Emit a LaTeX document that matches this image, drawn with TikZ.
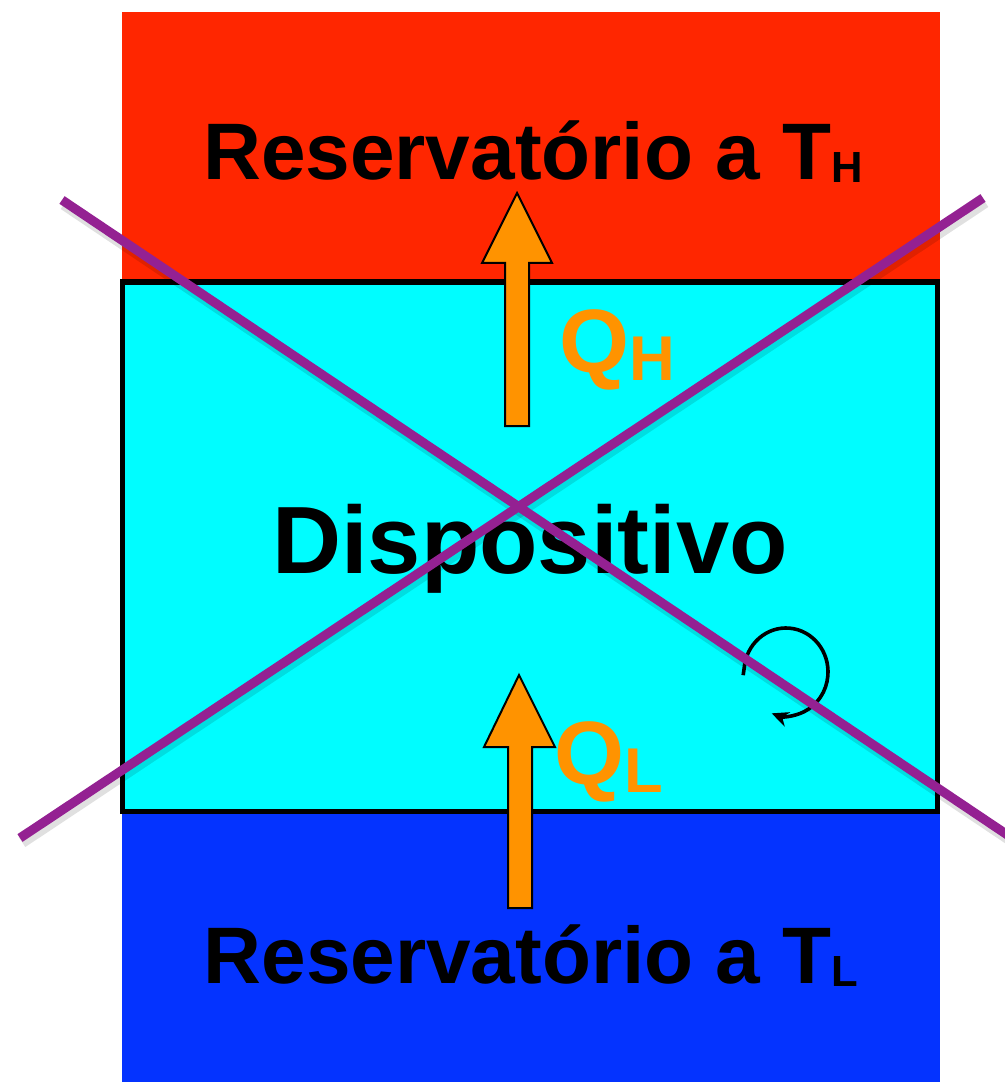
\documentclass[tikz,border=0pt]{standalone}
\usepackage{fontspec}
\setmainfont{Liberation Sans}
\usetikzlibrary{arrows.meta}
\definecolor{hotred}{HTML}{FF2600}
\definecolor{coldblue}{HTML}{0433FF}
\definecolor{devcyan}{HTML}{00FDFF}
\definecolor{heatorange}{HTML}{FF9300}
\definecolor{crossplum}{HTML}{942192}
\begin{document}
\begin{tikzpicture}[x=0.025cm,y=-0.025cm,
  reslabel/.style={anchor=base,inner sep=0pt,font=\bfseries\fontsize{57}{60}\selectfont},
  qlabel/.style={anchor=base west,inner sep=0pt,text=heatorange,font=\bfseries\fontsize{64}{66}\selectfont},
  heatarrow/.style={draw=black,line width=0.05cm,fill=heatorange,line join=miter},
  crossline/.style={crossplum,line width=0.23cm},
  crossshadow/.style={black,opacity=0.12,line width=0.3cm}]
  \useasboundingbox (0,0) rectangle (1004,1082);
  \fill[hotred] (122,12) rectangle (940,282);
  \fill[coldblue] (122,811) rectangle (940,1082);
  \draw[fill=devcyan,line width=0.125cm] (122,282) rectangle (937,811);
  \node[reslabel] (thot) at (533,180) {Reservatório a T\raisebox{-0.075cm}{\fontsize{31}{34}\selectfont H}};
  \node[reslabel] (tcold) at (531,983) {Reservatório a T\raisebox{-0.075cm}{\fontsize{31}{34}\selectfont L}};
  \node[reslabel,font=\bfseries\fontsize{68}{72}\selectfont] (disp) at (530,573) {Dispositivo};
  \node[qlabel] (qh) at (559,372) {Q\raisebox{-0.2cm}{\fontsize{45}{48}\selectfont H}};
  \node[qlabel] (ql) at (554,784) {Q\raisebox{-0.2cm}{\fontsize{45}{48}\selectfont L}};
  \draw[heatarrow] (505,426) -- (505,263) -- (482,263) -- (517,193) -- (552,263) -- (529,263) -- (529,426) -- cycle;
  \draw[heatarrow] (508,908) -- (508,747) -- (484,747) -- (519,675) -- (555,747) -- (532,747) -- (532,908) -- cycle;
  \coordinate (rot) at (786,672);
  \draw[line width=0.09cm,-{Stealth[length=0.42cm,width=0.38cm]}] ([shift={(185:42 and 44)}]rot) -- ++(-1,7)
    ([shift={(185:42 and 44)}]rot) arc[start angle=185, end angle=470, x radius=42, y radius=44];
  \coordinate (xa) at (62,200);
  \coordinate (xb) at (1012,838);
  \coordinate (ya) at (20,838);
  \coordinate (yb) at (983,198);
  \draw[crossshadow] ([shift={(2,4)}]xa) -- ([shift={(2,4)}]xb);
  \draw[crossshadow] ([shift={(2,4)}]ya) -- ([shift={(2,4)}]yb);
  \draw[crossline] (xa) -- (xb);
  \draw[crossline] (ya) -- (yb);
\end{tikzpicture}
\end{document}
